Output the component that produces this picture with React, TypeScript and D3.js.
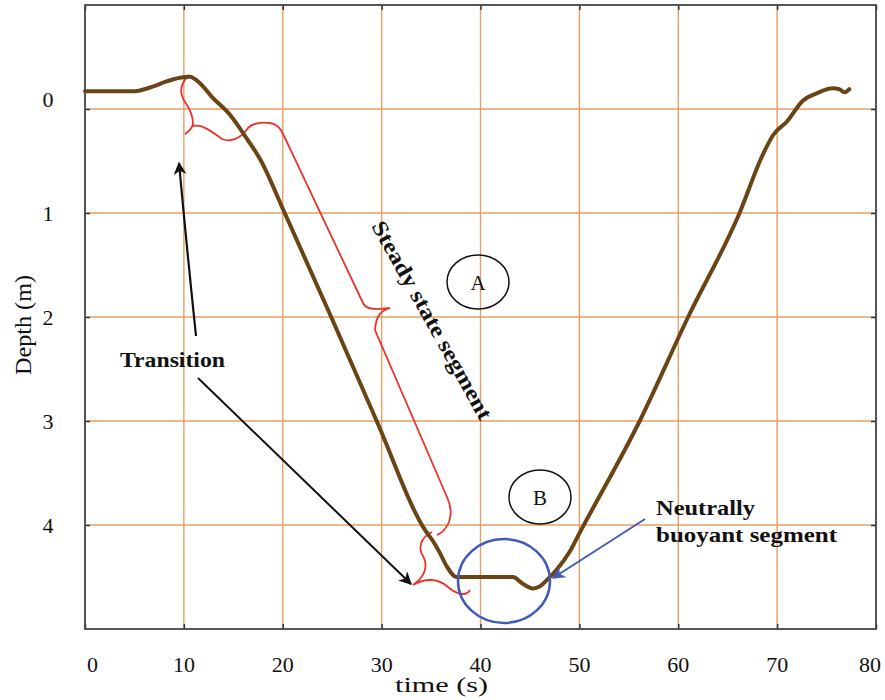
import React, { useEffect, useRef } from 'react';
import * as d3 from 'd3';

// depth profile
const timeS = [0, 2, 4, 4.9, 6, 7, 8.1, 9.6, 10.6, 11.6, 12.8, 14.7, 16.4, 17.7, 20.2, 24.9, 29.5, 34.4, 35.3, 35.9, 36.6, 37.6, 39.5, 41.5, 43.3, 44.2, 45.3, 46.0, 46.7, 47.7, 49.0, 50.0, 56.1, 61.0, 66.2, 68.5, 69.6, 71.0, 72.6, 74.0, 75.6, 76.3, 76.8, 77.3];
const depthM = [-0.17, -0.17, -0.17, -0.17, -0.19, -0.22, -0.26, -0.3, -0.31, -0.25, -0.12, 0.06, 0.29, 0.48, 1.0, 2.0, 3.0, 4.05, 4.17, 4.27, 4.4, 4.5, 4.5, 4.5, 4.5, 4.56, 4.61, 4.59, 4.53, 4.43, 4.26, 4.08, 3.0, 2.0, 1.0, 0.45, 0.25, 0.12, -0.08, -0.15, -0.2, -0.19, -0.16, -0.19];

const xTicks = [0, 10, 20, 30, 40, 50, 60, 70, 80];
const yTicks = [0, 1, 2, 3, 4];

const W = 885;
const H = 700;

export default function App() {
  const ref = useRef<SVGSVGElement>(null);

  useEffect(() => {
    const svg = d3.select(ref.current);
    svg.selectAll('*').remove();

    const margin = { top: 5, right: 9, bottom: 71, left: 85 };
    const x = d3.scaleLinear().domain([0, 80]).range([margin.left, W - margin.right]);
    const y = d3.scaleLinear().domain([-1, 5]).range([margin.top, H - margin.bottom]);
    const serif = '"Liberation Serif", "Times New Roman", serif';

    // markers
    const defs = svg.append('defs');
    const mk = (id: string, color: string) =>
      defs
        .append('marker')
        .attr('id', id)
        .attr('viewBox', '0 0 10 10')
        .attr('refX', 9)
        .attr('refY', 5)
        .attr('markerWidth', 13)
        .attr('markerHeight', 13)
        .attr('markerUnits', 'userSpaceOnUse')
        .attr('orient', 'auto')
        .append('path')
        .attr('d', 'M0,0 L10,5 L0,10 L3,5 Z')
        .attr('fill', color);
    mk('arrBlack', '#111');
    mk('arrBlue', '#3f5bb5');

    // grid
    const grid = svg.append('g').attr('stroke', '#e3a066').attr('stroke-width', 1.4);
    grid
      .selectAll('line.v')
      .data(xTicks.slice(1, -1))
      .enter()
      .append('line')
      .attr('x1', d => x(d))
      .attr('x2', d => x(d))
      .attr('y1', y(-1))
      .attr('y2', y(5));
    grid
      .selectAll('line.h')
      .data(yTicks)
      .enter()
      .append('line')
      .attr('x1', x(0))
      .attr('x2', x(80))
      .attr('y1', d => y(d))
      .attr('y2', d => y(d));

    // inner ticks on all four sides
    const tickSize = -5;
    [
      { a: d3.axisTop(x), t: `translate(0,${y(-1)})` },
      { a: d3.axisBottom(x), t: `translate(0,${y(5)})` },
    ].forEach(({ a, t }) => {
      const g = svg.append('g').attr('transform', t).call(a.tickValues(xTicks).tickSize(tickSize).tickFormat(() => ''));
      g.select('.domain').remove();
      g.selectAll('line').attr('stroke', '#333').attr('stroke-width', 1.5);
    });
    [
      { a: d3.axisLeft(y), t: `translate(${x(0)},0)` },
      { a: d3.axisRight(y), t: `translate(${x(80)},0)` },
    ].forEach(({ a, t }) => {
      const g = svg.append('g').attr('transform', t).call(a.tickValues(yTicks).tickSize(tickSize).tickFormat(() => ''));
      g.select('.domain').remove();
      g.selectAll('line').attr('stroke', '#333').attr('stroke-width', 1.5);
    });

    // frame
    svg
      .append('rect')
      .attr('x', x(0))
      .attr('y', y(-1))
      .attr('width', x(80) - x(0))
      .attr('height', y(5) - y(-1))
      .attr('fill', 'none')
      .attr('stroke', '#444')
      .attr('stroke-width', 1.8);

    // tick labels
    svg
      .append('g')
      .selectAll('text')
      .data(xTicks)
      .enter()
      .append('text')
      .attr('x', (d, i) => (i === 0 ? x(d) + 2 : i === xTicks.length - 1 ? x(d) + 5 : x(d)))
      .attr('y', 672)
      .attr('text-anchor', (d, i) => (i === 0 ? 'start' : i === xTicks.length - 1 ? 'end' : 'middle'))
      .attr('font-family', serif)
      .attr('font-size', 22)
      .attr('fill', '#111')
      .text(d => d);
    svg
      .append('g')
      .selectAll('text')
      .data(yTicks)
      .enter()
      .append('text')
      .attr('x', 48)
      .attr('y', d => y(d) + (d === 0 ? -10 : 0))
      .attr('dy', '0.35em')
      .attr('text-anchor', 'middle')
      .attr('font-family', serif)
      .attr('font-size', 22)
      .attr('fill', '#111')
      .text(d => d);

    svg
      .append('text')
      .attr('x', 395)
      .attr('y', 692)
      .attr('font-family', serif)
      .attr('font-size', 22)
      .attr('fill', '#111')
      .attr('textLength', 93)
      .attr('lengthAdjust', 'spacingAndGlyphs')
      .text('time (s)');
    svg
      .append('text')
      .attr('transform', `translate(31,375) rotate(-90)`)
      .attr('font-family', serif)
      .attr('font-size', 23)
      .attr('fill', '#111')
      .attr('textLength', 100)
      .attr('lengthAdjust', 'spacingAndGlyphs')
      .text('Depth (m)');

    // red braces
    const red = svg.append('g').attr('fill', 'none').attr('stroke', '#e8342c').attr('stroke-width', 1.8);
    red.append('path').attr('d', 'M189,75 C180,84 179,93 185,102 C190,109 193,115 193,124 C192,129 188,132 185,134');
    red
      .append('path')
      .attr(
        'd',
        'M193,126 C203,124 212,132 222,139 C232,143 242,137 248,128 C253,123 262,122 270,123 C277,124 281,128 284,136 L363,303 C366,309 372,310 390,308 C380,311 376,316 375,330 L447,497 C451,506 452,514 449,522 C446,529 442,533 437,535'
      );
    red.append('path').attr('d', 'M432,532 C420,538 418,548 423,556 C428,565 426,576 413,585 C425,578 438,578 448,587 C456,594 466,597 470,590');

    // depth trace
    const pts = timeS.map((t, i) => [t, depthM[i]] as [number, number]);
    const line = d3
      .line<[number, number]>()
      .x(d => x(d[0]))
      .y(d => y(d[1]))
      .curve(d3.curveMonotoneX);
    svg
      .append('path')
      .datum(pts)
      .attr('d', line)
      .attr('fill', 'none')
      .attr('stroke', '#6b4416')
      .attr('stroke-width', 4)
      .attr('stroke-linejoin', 'round')
      .attr('stroke-linecap', 'round');

    // circled letters
    [
      { cx: 478, cy: 282, label: 'A' },
      { cx: 540, cy: 497, label: 'B' },
    ].forEach(c => {
      svg.append('ellipse').attr('cx', c.cx).attr('cy', c.cy).attr('rx', 31).attr('ry', 27).attr('fill', 'none').attr('stroke', '#111').attr('stroke-width', 1.5);
      svg
        .append('text')
        .attr('x', c.cx)
        .attr('y', c.cy)
        .attr('dy', '0.36em')
        .attr('text-anchor', 'middle')
        .attr('font-family', serif)
        .attr('font-size', 21)
        .attr('fill', '#111')
        .text(c.label);
    });

    // blue ellipse + arrow
    svg.append('ellipse').attr('cx', 504).attr('cy', 581).attr('rx', 46).attr('ry', 42).attr('fill', 'none').attr('stroke', '#3f5bb5').attr('stroke-width', 2.5);
    svg.append('line').attr('x1', 645).attr('y1', 519).attr('x2', 553).attr('y2', 578).attr('stroke', '#3f5bb5').attr('stroke-width', 2).attr('marker-end', 'url(#arrBlue)');

    // black arrows
    svg.append('path').attr('d', 'M196,336 Q187,250 179,163').attr('fill', 'none').attr('stroke', '#111').attr('stroke-width', 2.2).attr('marker-end', 'url(#arrBlack)');
    svg.append('line').attr('x1', 198).attr('y1', 378).attr('x2', 411).attr('y2', 584).attr('stroke', '#111').attr('stroke-width', 2).attr('marker-end', 'url(#arrBlack)');

    // bold labels
    const bold = (tx: string, px: number, py: number, len: number, rot = 0) =>
      svg
        .append('text')
        .attr('transform', `translate(${px},${py}) rotate(${rot})`)
        .attr('font-family', serif)
        .attr('font-weight', 'bold')
        .attr('font-size', 22)
        .attr('fill', '#111')
        .attr('textLength', len)
        .attr('lengthAdjust', 'spacingAndGlyphs')
        .text(tx);
    bold('Transition', 120, 367, 105);
    bold('Neutrally', 656, 515, 99);
    bold('buoyant segment', 656, 542, 181);
    bold('Steady state segment', 371, 226, 224, 60.8);
  }, []);

  return <svg ref={ref} width={W} height={H} style={{ position: 'absolute', left: 0, top: 0, background: '#fff' }} />;
}
